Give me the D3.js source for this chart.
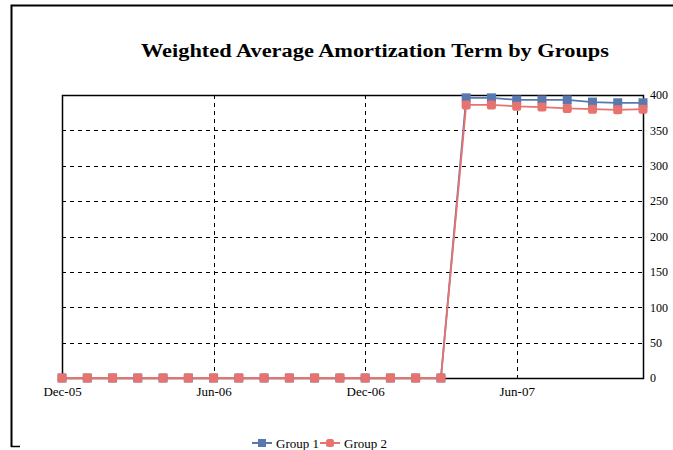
<!DOCTYPE html>
<html><head><meta charset="utf-8">
<script src="https://cdn.jsdelivr.net/npm/d3@7"></script>
<style>body{margin:0;background:#fff}svg{display:block}text{font-family:"Liberation Serif","DejaVu Serif",serif}</style>
</head><body>
<script>
const months = ["Dec-05","Jan-06","Feb-06","Mar-06","Apr-06","May-06","Jun-06","Jul-06","Aug-06","Sep-06","Oct-06","Nov-06",
  "Dec-06","Jan-07","Feb-07","Mar-07","Apr-07","May-07","Jun-07","Jul-07","Aug-07","Sep-07","Oct-07","Nov-07"];
const group1 = [0,0,0,0,0,0,0,0,0,0,0,0,0,0,0,0,396,396,393,393,393,390,389,389];
const group2 = [0,0,0,0,0,0,0,0,0,0,0,0,0,0,0,0,386,386,384,383,381,380,379,380];
const xTickLabels = ["Dec-05","Jun-06","Dec-06","Jun-07"];
const yTicks = [0,50,100,150,200,250,300,350,400];
const seriesNames = ["Group 1","Group 2"];
const colors = ["#5a78b0","#e8726e"];
const SERIF = '"Liberation Serif","DejaVu Serif",serif';

const W=673,H=450;
const svg=d3.select("body").append("svg").attr("width",W).attr("height",H);
// outer frame
svg.append("path").attr("d","M11.5,447 L11.5,5.5 L680,5.5").attr("fill","none").attr("stroke","#000").attr("stroke-width",2);
svg.append("line").attr("x1",11).attr("x2",20).attr("y1",446.5).attr("y2",446.5).attr("stroke","#000").attr("stroke-width",1.5);

const L=62,R=643,T=95,B=378;
const x=d3.scalePoint().domain(months).range([L,R]);
const y=d3.scaleLinear().domain([0,400]).range([B,T]);

// title
svg.append("text").attr("x",375).attr("y",57).attr("text-anchor","middle")
  .style("font-family",SERIF).attr("font-size",18).attr("font-weight","bold").attr("textLength",468).attr("lengthAdjust","spacingAndGlyphs")
  .text("Weighted Average Amortization Term by Groups");

// gridlines
const g=svg.append("g");
g.selectAll(".hg").data(yTicks.filter(v=>v>0&&v<400)).join("line")
  .attr("x1",L).attr("x2",R).attr("y1",d=>Math.round(y(d))+0.5).attr("y2",d=>Math.round(y(d))+0.5)
  .attr("stroke","#000").attr("stroke-dasharray","4,4");
g.selectAll(".vg").data(xTickLabels.slice(1)).join("line")
  .attr("y1",T).attr("y2",B).attr("x1",d=>Math.round(x(d))+0.5).attr("x2",d=>Math.round(x(d))+0.5)
  .attr("stroke","#000").attr("stroke-dasharray","4,4");

// plot border
svg.append("rect").attr("x",L+0.5).attr("y",T+0.5).attr("width",R-L).attr("height",B-T)
  .attr("fill","none").attr("stroke","#000").attr("stroke-width",1.5);

// axes
const yAxis=d3.axisRight(y).tickValues(yTicks).tickSize(0).tickPadding(7);
const ya=svg.append("g").attr("transform",`translate(${R},0)`).call(yAxis);
ya.select(".domain").remove();
ya.selectAll("text").style("font-family",SERIF).attr("font-size",12).attr("fill","#000");

const xAxis=d3.axisBottom(x).tickValues(xTickLabels).tickSize(0).tickPadding(9);
const xa=svg.append("g").attr("transform",`translate(0,${B})`).call(xAxis);
xa.select(".domain").remove();
xa.selectAll("text").style("font-family",SERIF).attr("font-size",13).attr("fill","#000");

// series
const series=[group1,group2];
const line=d3.line().x((d,i)=>x(months[i])).y(d=>y(d));
series.forEach((s,k)=>{
  svg.append("path").datum(s).attr("d",line).attr("fill","none").attr("stroke",colors[k]).attr("stroke-width",1.8);
});
series.forEach((s,k)=>{
  svg.append("g").selectAll("rect").data(s).join("rect")
    .attr("x",(d,i)=>x(months[i])-4.5).attr("y",d=>y(d)-4.5).attr("width",9).attr("height",9)
    .attr("rx",k===1?2:0).attr("fill",colors[k]);
});

// legend
const leg=svg.append("g");
const lx=[252,320];
seriesNames.forEach((n,k)=>{
  leg.append("line").attr("x1",lx[k]).attr("x2",lx[k]+20).attr("y1",443).attr("y2",443).attr("stroke",colors[k]).attr("stroke-width",2);
  leg.append("rect").attr("x",lx[k]+6).attr("y",439).attr("width",8).attr("height",8).attr("rx",k===1?2.5:0).attr("fill",colors[k]);
  leg.append("text").attr("x",lx[k]+24).attr("y",448).style("font-family",SERIF).attr("font-size",13).text(n);
});
</script>
</body></html>
